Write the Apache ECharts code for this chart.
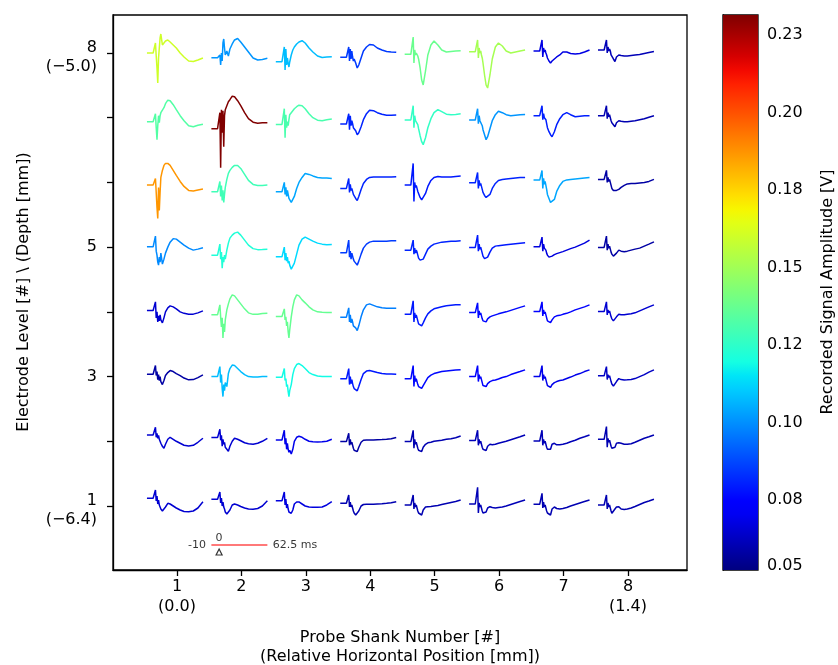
<!DOCTYPE html>
<html><head><meta charset="utf-8">
<script src="https://cdn.jsdelivr.net/npm/echarts@6/dist/echarts.min.js"></script>
<style>html,body{margin:0;padding:0;background:#fff}#c{width:838px;height:665px}</style>
</head><body><div id="c"></div>
<script>
// ---------------- data ----------------
// sample times of every trace (ms, stimulus at 0)
const TIME_MS = [-10, -2, 0, 1, 2, 3, 4, 5, 6, 7, 8, 10, 12, 14, 17, 20, 24, 28, 33, 38, 44, 50, 56, 62.5];
const SHANKS = [1, 2, 3, 4, 5, 6, 7, 8];
const SHANK_LABELS = ['1\n(0.0)', '2', '3', '4', '5', '6', '7', '8\n(1.4)'];
const LEVEL_TICKS = [1, 2, 3, 4, 5, 6, 7, 8];
const LEVEL_LABEL_TICKS = [1, 3, 5, 8];
const LEVEL_LABELS = ['1\n(\u22126.4)', '', '3', '', '5', '', '', '8\n(\u22125.0)'];
const CB_TICKS = [0.0537, 0.075, 0.1, 0.125, 0.15, 0.175, 0.2, 0.225];
const CB_LABELS = ['0.05', '0.08', '0.10', '0.12', '0.15', '0.18', '0.20', '0.23'];
const VMIN = 0.0524, VMAX = 0.2315;

// waveforms per electrode level (one array per shank 1..8), signal units (1/64.7 of level spacing)
const level8 = [
  [0,0,0,10,-3,-15,-30,-5,5,15,19,8,9,12,13,11,8,5,0,-4,-8,-8.5,-7,-5],
  [-4.7,-4.7,-4,-2,-12,0,-8,10,14,5,-2,2,-3,4,9,13,14.5,11,6,1,-5,-7,-6.5,-5.3],
  [-8.7,-8.7,-8,6,-17,4,-12,-5,-10,-14,-9,-2,3,6,9,11,12.3,10,5,1,-3,-4.5,-4,-3.7],
  [-4.3,-4.3,-3,6,-8,4,-6,2,-4,-8,-6,-10,-15,-12,-5,2,6,8.5,8,5,3,1.5,1,0.7],
  [-1.3,-1.3,-1,16,-10,3,-2,0,-1,-3,-6,-15,-27,-32,-18,-2,8,12,8,3,1,1.5,2,2.3],
  [1.3,1.3,2,13,-5,5,0,2,-2,-5,-10,-22,-32,-35,-22,-6,6,10,7,2,0,1,2,3],
  [2,2,3,13,-4,5,1,3,0,-2,-5,-8,-10,-8,-6,-4,-2,1,1,-0.5,-1,-0.5,1,3],
  [3,3,4,13,0,6,2,4,2,-2,-3,-6,-8.5,-4,-2,-2.5,-3,-3,-2.5,-2,-1.5,-0.5,0.5,1.5]
];
const level7 = [
  [-4,-4,-3,4,-10,-22,-8,2,-5,2,5,6,10,14,17.5,17,13,8,2,-3,-8,-9,-7.5,-6.5],
  [-11,-11,-10,5,-50,8,-15,7,-29,2,8,12,16,18,21.5,21,17,12,5,-1,-4.5,-5.5,-5,-5],
  [-6.7,-6.7,-6,9,-20,3,-10,-4,-8,-2,3,4,7,9,11,12.5,12,9,4,0,-2.5,-3,-2,-1.3],
  [-6.3,-6.3,-5,4,-12,2,-8,-3,-6,-10,-9,-13,-17,-15,-9,-2,4,7.5,7,5,3.5,2.5,2.5,2.7],
  [-2.3,-2.3,-2,12,-10,2,-3,-2,-4,-7,-11,-18,-24,-27,-20,-10,-1,5,8,6,3.5,3,3.3,4],
  [-2.3,-2.3,-1,9,-6,2,-3,-2,-4,-8,-12,-17,-22,-19,-11,-3,3,6.5,5,3,2,2.5,3,3.3],
  [2,2,3,12,-2,4,0,1,-2,-6,-10,-14,-17,-19,-14,-7,-1,3,5,3,1,1.5,2,2],
  [2,2,3,12,-1,5,1,3,0,-3,-5,-7,-9,-5,-3,-3.5,-4,-4,-3.5,-3,-2,-1,0.5,2]
];
const level6 = [
  [-2.7,-2.7,-2,4,-10,-25,-36,-5,-28,-10,5,12,17,19,19,17,12,7,1,-4,-8,-8.5,-7.5,-6.5],
  [-9.3,-9.3,-8,1,-14,-3,-18,-8,-20,-12,-5,3,9,12,15,17,17,14,8,2,-2,-3,-3,-2.7],
  [-9.3,-9.3,-8,0,-12,-5,-14,-8,-12,-16,-15,-20,-19,-14,-6,0,5,9,8,6.5,5,4.5,4.5,4],
  [-6,-6,-5,4,-10,-2,-8,-6,-9,-12,-13,-16,-18,-14,-7,-1,3,5,5.5,5.5,5.5,5.5,5.5,5.7],
  [-2.7,-2.7,-2,19,-19,0,-5,-3,-6,-9,-11,-15,-17.5,-17,-11,-4,2,5,6,5.5,5.5,5.5,6,6.3],
  [-0.3,-0.3,1,10,-6,2,-3,-1,-4,-7,-10,-13,-15,-16,-12,-6,-1,2,3,3.5,4,4.5,5,5],
  [2.3,2.3,3,12,-6,4,-2,1,-3,-7,-12,-16,-20,-21.5,-17,-9,-3,1,2.5,3,3.5,4,4.5,5],
  [3,3,4,12,0,5,1,3,0,-3,-6,-8,-9.5,-8,-7,-5,-3,-1.5,-1,-1,-0.5,0,1,3]
];
const level5 = [
  [0.3,0.3,1,11,-4,-8,-15,-18,-10,-15,-6,-17,-12,-6,0,5,8.5,8,5,2,-1,-3,-2,-0.7],
  [-8,-8,-7,3,-12,-5,-21,-10,-15,-8,-12,-3,4,9,12,14,15,12,7,2,-1.5,-2.5,-2.3,-2],
  [-9.7,-9.7,-8,0,-13,-6,-14,-10,-16,-14,-18,-22,-23,-16,-7,2,8,10,8,6,4,3,2.5,2.7],
  [-5.7,-5.7,-5,7,-10,-4,-12,-6,-9,-12,-14,-16,-18,-14,-7,-1,3,5,6,6,6,6,6.3,6.3],
  [-3,-3,-2,7,-7,-1,-6,-3,-5,-8,-11,-13,-14.5,-12,-7,-2,1,3,4,5,5.5,6,6,6.3],
  [-0.3,-0.3,1,12,-4,3,-2,0,-3,-6,-9,-11.5,-13,-10,-5,-1,1,1.5,2,2.5,3,3.5,4,4.3],
  [0.3,0.3,1,10,-4,3,-1,0,-3,-6,-8,-10,-10.5,-9,-7.5,-6.5,-5.5,-4.5,-3,-1.5,0,2,4,7],
  [-0.3,-0.3,1,11,-3,3,-1,1,-2,-5,-7,-9,-9.7,-6,-3,-4,-4.5,-4,-3,-2,-1,1,3,5.3]
];
const level4 = [
  [1.3,1.3,2,10,-6,0,-10,-4,-9,-3,-8,-11,-6,0,4,6,5,3,0,-1.5,-2.5,-2.3,-1,1],
  [-3,-3,-2,7,-5,-15,-6,-26,-12,-20,-8,2,8,13,17,16,12,8,3,-1,-2.5,-2.5,-1.7,-1.3],
  [-4.7,-4.7,-4,3,-8,-5,-14,-10,-20,-26,-18,-5,5,12,17,16,12,9,5,2,0,-0.5,-0.7,-0.7],
  [-5.3,-5.3,-4,4,-10,-3,-11,-7,-10,-14,-13,-16,-18.7,-14,-5,2,7,8,6.5,5,4,3.7,3.7,3.7],
  [-2.3,-2.3,-1,11,-10,-1,-6,-3,-6,-9,-12,-13,-14,-11,-6,-2,1,3,4,5,6,6.5,7,7],
  [-0.7,-0.7,0,9,-6,1,-3,-1,-4,-7,-9,-10.5,-10,-7,-5,-4,-3,-2,-1,0,1.5,3,4.5,6],
  [0.3,0.3,1,10,-4,2,-2,0,-3,-6,-9,-10.5,-10.7,-8,-5,-4,-3.5,-2.5,-1.5,0,2,3.5,5,7],
  [0.3,0.3,1,10,-3,2,-1,1,-2,-5,-7,-9,-9.7,-5,-2.5,-3,-3,-2.5,-2,-1,1,3,5,7]
];
const level3 = [
  [2.3,2.3,3,11,1,5,-3,2,-4,0,-5,-8,-4,1,4,6,5,3,1,-1.5,-3.3,-3,-1,1.7],
  [0,0,1,10,-6,2,-12,-20,-8,-14,-6,-10,3,8,11.5,11,8,5,2,0,-0.5,-0.5,0,0],
  [-0.7,-0.7,0,8,-4,-2,-10,-8,-15,-20,-14,-8,2,8,12,13,11,8,4,2,0.5,0,0,0],
  [-2.3,-2.3,-1,8,-8,0,-7,-3,-7,-10,-12,-13,-14.3,-10,-3,3,5.5,6,5,4,3,2.5,2.5,2.3],
  [-2.3,-2.3,-1,11,-10,1,-5,-2,-5,-8,-10,-11,-11.7,-9,-5,-1,1.5,3,4,5,5.5,6,6.5,6.7],
  [0,0,1,11,-5,2,-2,0,-3,-6,-9,-10.5,-10,-7,-5,-4,-3.5,-2.5,-1,0,2,3.5,5,6.7],
  [0,0,1,11,-4,2,-2,0,-3,-6,-9,-10.5,-10.7,-8,-6,-5,-4,-3.5,-2,-0.5,1.5,3,5,6.7],
  [0.7,0.7,1.5,10,-3,2,-1,1,-2,-5,-7.5,-9.5,-10,-5,-2,-3,-3.5,-3.3,-3,-2,0,2,4.5,6.7]
];
const level2 = [
  [6.3,6.3,7,14,4,8,3,6,2,0,-2,-5,-7,-3,2,4,2,0,-2,-4,-4.7,-4,-1,3],
  [3.7,3.7,4.5,12,1,6,-5,2,-3,-1,-6,-8,-10,-5,0,3,2,0.5,-1.5,-2.5,-3,-2,0,3],
  [1.3,1.3,2,11,-3,3,-8,-2,-8,-11,-9,-12.7,-8,0,4,5,4,2,0,-0.5,-0.7,-0.5,0,2],
  [-0.3,-0.3,0.5,8,-4,2,-3,-1,-4,-7,-9,-10,-10.3,-6,-1,1,1.3,1.3,1.3,1.5,1.7,2,2.5,3.7],
  [-0.3,-0.3,0.5,11,-7,2,-3,-1,-4,-7,-9,-10,-10.3,-6,-3,-1.5,-1,0,0.5,1,2,2.5,3.5,5.3],
  [0.7,0.7,1.5,11,-4,2,-2,0,-3,-6,-8,-9.3,-9.3,-5,-3,-3.5,-3,-2,-1,0,1.5,3,4.5,6.3],
  [0.3,0.3,1,11,-4,2,-2,0,-3,-6,-8,-9.3,-8,-3,-2,-3.5,-3.5,-3,-2,-0.5,1,3,4.5,6.3],
  [2,2,3,14.7,-6,3,-1,1,-2,-5,-7,-8,-6,-2,-1.5,-2,-3,-3,-2.5,-1,1,3,4.5,6.3]
];
const level1 = [
  [7.7,7.7,8.5,16,5,10,2,6,1,-1,-3,-5,-5.7,-1,2.7,2,0,-2,-4,-5.5,-5.7,-5,-2,4.3],
  [6.7,6.7,7.5,14,3,8,0,4,-1,-3,-6,-8,-9,-4,1,2,1,-0.5,-2,-3,-3.3,-2.5,0,5.3],
  [5.3,5.3,6,14,1,7,-2,2,-3,-6,-5,-7.3,-4,2,4,4,2,0,-1,-1.3,-1.3,-1,1,4.3],
  [2.7,2.7,3.5,11,-1,4,-1,1,-2,-5,-7,-9,-10,-5,0,1.5,1.7,1.7,1.7,2,2.3,2.7,3.3,4.3],
  [1,1,2,11,-3,3,-1,1,-2,-5,-7,-8.5,-9,-4,-1,-0.7,-0.5,0,0.5,1.5,2.5,3.5,4.5,6],
  [2,2,3,18.7,-7,3,-1,1,-2,-5,-7,-8,-6,-2,-0.7,-1.5,-2,-1.5,-1,0,1.5,3,4.5,6],
  [1.7,1.7,2.5,12.7,-2,4,-1,1,-2,-5,-7,-8.5,-9,-3,-1,-2.5,-3,-2.5,-1.5,0,1.5,3,4.5,6],
  [1,1,2,11,-3,3,-1,1,-2,-5,-7.3,-6,-3,-1,-0.7,-3,-3.5,-3,-2,-0.5,1.5,3.5,5,6.7]
];

// recorded signal amplitude [V] per level, shanks 1..8
const amp8 = [0.160, 0.101, 0.108, 0.085, 0.138, 0.151, 0.068, 0.061];
const amp7 = [0.133, 0.2315, 0.131, 0.081, 0.126, 0.101, 0.080, 0.060];
const amp6 = [0.187, 0.129, 0.104, 0.081, 0.079, 0.081, 0.104, 0.058];
const amp5 = [0.099, 0.122, 0.113, 0.085, 0.081, 0.079, 0.067, 0.058];
const amp4 = [0.065, 0.137, 0.137, 0.097, 0.079, 0.076, 0.074, 0.065];
const amp3 = [0.058, 0.108, 0.119, 0.079, 0.076, 0.072, 0.069, 0.063];
const amp2 = [0.065, 0.065, 0.069, 0.058, 0.060, 0.061, 0.061, 0.060];
const amp1 = [0.065, 0.065, 0.067, 0.060, 0.060, 0.061, 0.060, 0.060];

const SCALEBAR_MS = [-10, 0, 62.5];

// ---------------- layout / style ----------------
const FONT = 'DejaVu Sans';
const SIG_PER_LEVEL = 64.7;          // signal units per electrode level spacing
const X_OFF = -0.466;                // trace start relative to shank tick
const X_PER_MS = 0.869 / 72.5;       // horizontal span of a trace
const SCALEBAR_SHANK = 2, SCALEBAR_Y = 0.397;

const jetSeg = {
  r: [[0,0],[0.35,0],[0.66,1],[0.89,1],[1,0.5]],
  g: [[0,0],[0.125,0],[0.375,1],[0.64,1],[0.91,0],[1,0]],
  b: [[0,0.5],[0.11,1],[0.34,1],[0.65,0],[1,0]]
};
function seg(pts, p) {
  for (let i = 1; i < pts.length; i++) {
    if (p <= pts[i][0]) {
      const [x0, y0] = pts[i-1], [x1, y1] = pts[i];
      return y0 + (y1 - y0) * (p - x0) / (x1 - x0);
    }
  }
  return pts[pts.length-1][1];
}
function jet(p) {
  p = Math.max(0, Math.min(1, p));
  return 'rgb(' + Math.round(255*seg(jetSeg.r,p)) + ',' + Math.round(255*seg(jetSeg.g,p)) + ',' + Math.round(255*seg(jetSeg.b,p)) + ')';
}
const ampColor = a => jet((a - VMIN) / (VMAX - VMIN));

const traces = {1: level1, 2: level2, 3: level3, 4: level4, 5: level5, 6: level6, 7: level7, 8: level8};
const amps = {1: amp1, 2: amp2, 3: amp3, 4: amp4, 5: amp5, 6: amp6, 7: amp7, 8: amp8};
const tx = (shank, t) => shank + X_OFF + (t - TIME_MS[0]) * X_PER_MS;

const series = [];
LEVEL_TICKS.forEach(L => {
  SHANKS.forEach((s, si) => {
    const vals = traces[L][si];
    series.push({
      type: 'line', xAxisIndex: 0, yAxisIndex: 0,
      data: TIME_MS.map((t, i) => [tx(s, t), L + vals[i] / SIG_PER_LEVEL]),
      showSymbol: false, symbol: 'none', silent: true,
      lineStyle: { width: 1.5, color: ampColor(amps[L][si]) },
      z: 3
    });
  });
});

// scale bar
series.push({
  type: 'line', xAxisIndex: 0, yAxisIndex: 0, symbol: 'none', silent: true,
  data: [[tx(SCALEBAR_SHANK, SCALEBAR_MS[0]), SCALEBAR_Y], [tx(SCALEBAR_SHANK, SCALEBAR_MS[2]), SCALEBAR_Y]],
  lineStyle: { width: 1.6, color: '#ff4d4d' }
});
series.push({
  type: 'scatter', xAxisIndex: 0, yAxisIndex: 0, symbolSize: 1, silent: true,
  itemStyle: { color: 'rgba(0,0,0,0)' },
  label: { show: true, color: '#000', fontFamily: FONT, fontSize: 11 },
  data: [
    { value: [tx(SCALEBAR_SHANK, SCALEBAR_MS[0]), SCALEBAR_Y], label: { position: 'left', distance: 5, formatter: '-10' } },
    { value: [tx(SCALEBAR_SHANK, SCALEBAR_MS[1]), SCALEBAR_Y], label: { position: 'top', distance: 1, formatter: '0' } },
    { value: [tx(SCALEBAR_SHANK, SCALEBAR_MS[2]), SCALEBAR_Y], label: { position: 'right', distance: 5, formatter: '62.5 ms' } }
  ]
});
series.push({
  type: 'scatter', xAxisIndex: 0, yAxisIndex: 0, symbol: 'triangle', symbolSize: [6, 6], silent: true,
  itemStyle: { color: '#fff', borderColor: '#000', borderWidth: 1.2 },
  data: [[tx(SCALEBAR_SHANK, SCALEBAR_MS[1]), SCALEBAR_Y - 7 / SIG_PER_LEVEL]]
});

// colorbar
const cbStops = [];
for (let i = 0; i <= 40; i++) cbStops.push({ offset: i / 40, color: jet(1 - i / 40) });
series.push({
  type: 'custom', xAxisIndex: 1, yAxisIndex: 1, silent: true,
  data: [[0, VMIN, 1, VMAX]],
  renderItem: (params, api) => {
    const p1 = api.coord([api.value(0), api.value(3)]);
    const p2 = api.coord([api.value(2), api.value(1)]);
    return {
      type: 'rect',
      shape: { x: p1[0], y: p1[1], width: p2[0] - p1[0], height: p2[1] - p1[1] },
      style: { fill: new echarts.graphic.LinearGradient(0, 0, 0, 1, cbStops) }
    };
  }
});

const txt = { color: '#000', fontFamily: FONT, fontSize: 16 };
const richLine = { fontFamily: FONT, fontSize: 16, color: '#000', lineHeight: 20, align: 'right' };
const option = {
  animation: false,
  backgroundColor: '#fff',
  grid: [
    { left: 113, top: 15, width: 574, height: 555, show: true, borderColor: '#000', borderWidth: 1.3, containLabel: false },
    { left: 723, top: 15, width: 35, height: 555, show: true, borderColor: '#000', borderWidth: 1.3, containLabel: false }
  ],
  xAxis: [
    { type: 'value', gridIndex: 0, min: 0.007, max: 8.916,
      axisLine: { show: true, lineStyle: { color: '#000', width: 1.3 } },
      axisTick: { show: true, customValues: SHANKS, length: 6, lineStyle: { color: '#000', width: 1.3 } },
      axisLabel: { show: true, customValues: SHANKS, formatter: v => SHANK_LABELS[Math.round(v) - 1],
        margin: 7, lineHeight: 20, ...txt },
      splitLine: { show: false } },
    { type: 'value', gridIndex: 1, min: 0, max: 1, show: false }
  ],
  yAxis: [
    { type: 'value', gridIndex: 0, min: 0.011, max: 8.587,
      axisLine: { show: true, lineStyle: { color: '#000', width: 1.3 } },
      axisTick: { show: true, customValues: LEVEL_TICKS, length: 6, lineStyle: { color: '#000', width: 1.3 } },
      axisLabel: { show: true, customValues: LEVEL_LABEL_TICKS,
        formatter: v => {
          const s = LEVEL_LABELS[Math.round(v) - 1];
          if (s.indexOf('\n') < 0) return s;
          const parts = s.split('\n');
          return '{p|' + parts[0] + '}\n{q|' + parts[1] + '}';
        },
        rich: { p: { ...richLine, padding: [10, 0, 0, 0] }, q: { ...richLine, padding: [8, 0, 0, 0] } },
        margin: 16, lineHeight: 20, align: 'right', ...txt },
      splitLine: { show: false } },
    { type: 'value', gridIndex: 1, position: 'right', min: VMIN, max: VMAX,
      axisLine: { show: true, lineStyle: { color: '#000', width: 1.3 } },
      axisTick: { show: true, customValues: CB_TICKS, length: 6, lineStyle: { color: '#000', width: 1.3 } },
      axisLabel: { show: true, customValues: CB_TICKS,
        formatter: v => { let k = 0, d = 1; CB_TICKS.forEach((c, i) => { if (Math.abs(c - v) < d) { d = Math.abs(c - v); k = i; } }); return CB_LABELS[k]; },
        margin: 9, ...txt },
      splitLine: { show: false } }
  ],
  graphic: [
    { type: 'text', x: 400, y: 628, silent: true,
      style: { text: 'Probe Shank Number [#]\n(Relative Horizontal Position [mm])', textAlign: 'center', textVerticalAlign: 'top',
        fill: '#000', font: '16px "DejaVu Sans"', lineHeight: 19 } },
    { type: 'text', x: 24, y: 292, rotation: Math.PI / 2, silent: true,
      style: { text: 'Electrode Level [#] \\ (Depth [mm])', textAlign: 'center', textVerticalAlign: 'middle',
        fill: '#000', font: '16px "DejaVu Sans"' } },
    { type: 'text', x: 828, y: 292, rotation: Math.PI / 2, silent: true,
      style: { text: 'Recorded Signal Amplitude [V]', textAlign: 'center', textVerticalAlign: 'middle',
        fill: '#000', font: '16px "DejaVu Sans"' } }
  ],
  series: series
};
const chart = echarts.init(document.getElementById('c'), null, { renderer: 'canvas' });
chart.setOption(option);
</script>
</body></html>
